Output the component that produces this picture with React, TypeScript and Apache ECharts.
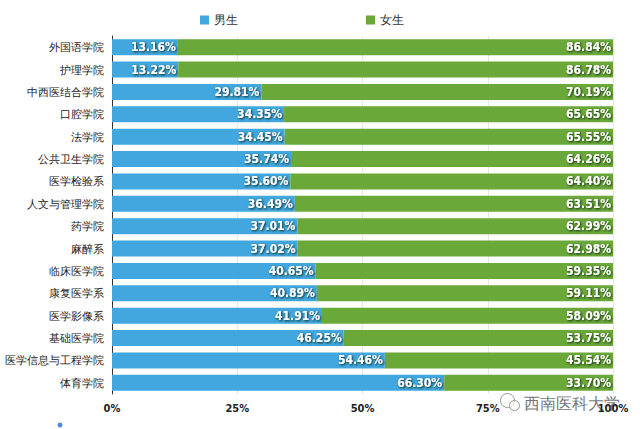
import React, { useEffect, useRef } from "react";
import * as echarts from "echarts";

const categories = [
  "外国语学院", "护理学院", "中西医结合学院", "口腔学院", "法学院", "公共卫生学院",
  "医学检验系", "人文与管理学院", "药学院", "麻醉系", "临床医学院", "康复医学系",
  "医学影像系", "基础医学院", "医学信息与工程学院", "体育学院",
];
const male = [13.16, 13.22, 29.81, 34.35, 34.45, 35.74, 35.6, 36.49, 37.01, 37.02, 40.65, 40.89, 41.91, 46.25, 54.46, 66.3];
const female = [86.84, 86.78, 70.19, 65.65, 65.55, 64.26, 64.4, 63.51, 62.99, 62.98, 59.35, 59.11, 58.09, 53.75, 45.54, 33.7];
const xTicks = [0, 25, 50, 75, 100];

export default function App() {
  const ref = useRef<HTMLDivElement>(null);
  useEffect(() => {
    const chart = echarts.init(ref.current!, null, { renderer: "svg" });
    const labelStyle = {
      show: true,
      position: "insideRight" as const,
      distance: 2,
      color: "#fff",
      fontFamily: "DejaVu Sans Condensed",
      fontWeight: "bold" as const,
      fontSize: 12,
      textShadowColor: "rgba(10,30,10,0.95)",
      textShadowBlur: 2,
      textShadowOffsetX: 1,
      textShadowOffsetY: 1,
      formatter: (p: any) => p.value.toFixed(2) + "%",
    };
    chart.setOption({
      animation: false,
      legend: [
        {
          data: ["男生"], left: 195, top: 9, itemWidth: 9, itemHeight: 9, icon: "rect",
          textStyle: { fontSize: 12, color: "#333" }, itemGap: 6,
        },
        {
          data: ["女生"], left: 361, top: 9, itemWidth: 9, itemHeight: 9, icon: "rect",
          textStyle: { fontSize: 12, color: "#333" },
        },
      ],
      grid: { left: 112, right: 27, top: 36, bottom: 35 },
      xAxis: {
        type: "value", min: 0, max: 100, interval: 25,
        axisLine: { show: false }, axisTick: { show: false },
        splitLine: { show: true, lineStyle: { color: "#e6e6e6" } },
        axisLabel: {
          formatter: (v: number) => (xTicks.includes(v) ? v + "%" : ""),
          color: "#222", fontWeight: "bold", fontSize: 11,
          fontFamily: "DejaVu Sans Condensed", margin: 9,
        },
      },
      yAxis: {
        type: "category", data: categories, inverse: true,
        axisLine: { show: true, lineStyle: { color: "#333", width: 1 } },
        axisTick: { show: false },
        axisLabel: { color: "#222", fontSize: 11, margin: 8 },
      },
      series: [
        {
          name: "男生", type: "bar", stack: "t", data: male, barWidth: "72%",
          itemStyle: { color: "#41a7de" }, label: labelStyle,
        },
        {
          name: "女生", type: "bar", stack: "t", data: female, barWidth: "72%",
          itemStyle: { color: "#6aa83a" }, label: labelStyle,
        },
      ],
      graphic: [
        {
          type: "group", left: 500, top: 393,
          children: [
            { type: "circle", shape: { cx: 8, cy: 8, r: 7 }, style: { fill: "rgba(255,255,255,0.6)", stroke: "#999", lineWidth: 1 } },
            { type: "circle", shape: { cx: 15, cy: 13, r: 5 }, style: { fill: "rgba(255,255,255,0.6)", stroke: "#999", lineWidth: 1 } },
          ],
        },
        {
          type: "text", left: 523, top: 394,
          style: { text: "西南医科大学", fill: "#777", fontSize: 16, stroke: "#fff", lineWidth: 2 },
        },
        { type: "circle", shape: { cx: 60, cy: 425, r: 2.5 }, style: { fill: "#4a8fd8" } },
      ],
    });
    return () => chart.dispose();
  }, []);
  return <div ref={ref} style={{ width: 640, height: 429, position: "absolute", left: 0, top: 0 }} />;
}
